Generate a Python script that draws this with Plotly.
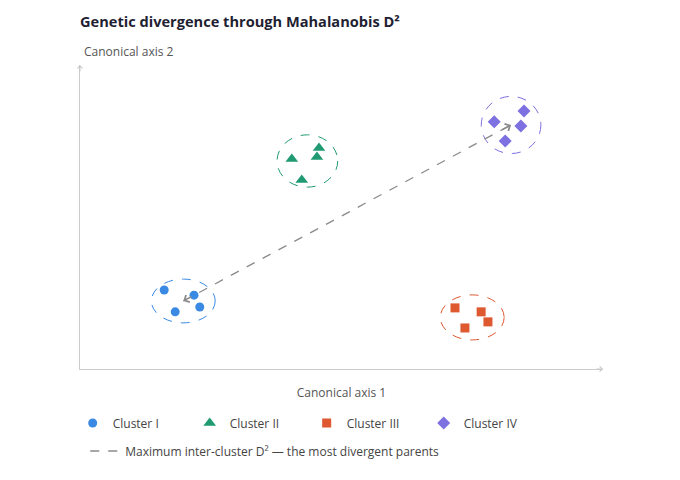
import plotly.graph_objects as go

clusters = ["Cluster I", "Cluster II", "Cluster III", "Cluster IV"]
c1_x = [1.61, 2.18, 1.82, 2.29]
c1_y = [2.60, 2.43, 1.88, 2.04]
c2_x = [4.05, 4.57, 4.53, 4.24]
c2_y = [6.91, 7.27, 6.97, 6.22]
c3_x = [7.17, 7.67, 7.80, 7.36]
c3_y = [2.01, 1.88, 1.55, 1.35]
c4_x = [7.92, 8.49, 8.43, 8.13]
c4_y = [8.13, 8.49, 7.99, 7.50]
xs = [c1_x, c2_x, c3_x, c4_x]
ys = [c1_y, c2_y, c3_y, c4_y]
ell_rx = [0.61, 0.58, 0.61, 0.57]
ell_ry = [0.72, 0.86, 0.74, 0.94]
symbols = ["circle", "triangle-up", "square", "diamond"]
sizes = [9, 11, 9, 10]
colors = ["#3a8ae3", "#1f9a72", "#de5830", "#7d70e0"]
arrow_label = "Maximum inter-cluster D² — the most divergent parents"
arrow_color = "#8a8a8a"

fig = go.Figure()
cents = []
for name, x, y, sym, sz, col, rx, ry in zip(clusters, xs, ys, symbols, sizes, colors, ell_rx, ell_ry):
    cx = sum(x) / len(x)
    cy = sum(y) / len(y)
    cents.append((cx, cy))
    fig.add_trace(go.Scatter(x=x, y=y, mode="markers", name=name, legend="legend",
                             marker=dict(symbol=sym, size=sz, color=col, line=dict(width=0))))
    fig.add_shape(type="circle", xref="x", yref="y", x0=cx - rx, x1=cx + rx, y0=cy - ry, y1=cy + ry,
                  line=dict(color=col, width=1, dash="dash"), layer="below")

(ax0, ay0), (ax1, ay1) = cents[0], cents[3]
fig.add_trace(go.Scatter(x=[ax0, ax1], y=[ay0, ay1], mode="lines", name=arrow_label, legend="legend2",
                         line=dict(color=arrow_color, width=1.3, dash="dash")))
for (hx, hy), (tx, ty) in [((ax0, ay0), (ax1, ay1)), ((ax1, ay1), (ax0, ay0))]:
    fig.add_annotation(x=hx, y=hy, ax=hx + 0.03 * (tx - hx), ay=hy + 0.03 * (ty - hy),
                       xref="x", yref="y", axref="x", ayref="y", text="", showarrow=True,
                       arrowhead=4, arrowsize=1.2, arrowwidth=1.3, arrowcolor=arrow_color)

# axis arrows
fig.add_annotation(x=1.0, y=0, ax=-8, ay=0, xref="paper", yref="paper", text="", showarrow=True,
                   arrowhead=4, arrowsize=1, arrowwidth=1, arrowcolor="#c8c8c8")
fig.add_annotation(x=0, y=1.0, ax=0, ay=8, xref="paper", yref="paper", text="", showarrow=True,
                   arrowhead=4, arrowsize=1, arrowwidth=1, arrowcolor="#c8c8c8")
fig.add_annotation(x=0, y=1.0, xref="paper", yref="paper", text="Canonical axis 2", showarrow=False,
                   xanchor="left", yanchor="bottom", xshift=2, yshift=3,
                   font=dict(size=12, color="#555555"))

fig.update_layout(
    width=680, height=480,
    margin=dict(l=80, r=77, t=65, b=111),
    paper_bgcolor="white", plot_bgcolor="white",
    font=dict(family="Open Sans, Noto Sans, sans-serif", color="#444444"),
    title=dict(text="<b>Genetic divergence through Mahalanobis D²</b>", x=80 / 680, xanchor="left",
               y=1 - 22 / 480, yanchor="middle", font=dict(size=14.6, color="#1f1f33")),
    xaxis=dict(range=[0, 10], showgrid=False, zeroline=False, showticklabels=False, ticks="",
               showline=True, linecolor="#cccccc", linewidth=1,
               title=dict(text="Canonical axis 1", font=dict(size=12, color="#555555"), standoff=19)),
    yaxis=dict(range=[0, 10], showgrid=False, zeroline=False, showticklabels=False, ticks="",
               showline=True, linecolor="#cccccc", linewidth=1),
    legend=dict(orientation="h", x=-0.014, xanchor="left", y=-0.13, yanchor="top",
                entrywidth=72, font=dict(size=12, color="#444444")),
    legend2=dict(orientation="h", x=0.01, xanchor="left", y=-0.222, yanchor="top",
                 font=dict(size=12, color="#444444")),
    showlegend=True,
)

fig.write_html("out.html")
